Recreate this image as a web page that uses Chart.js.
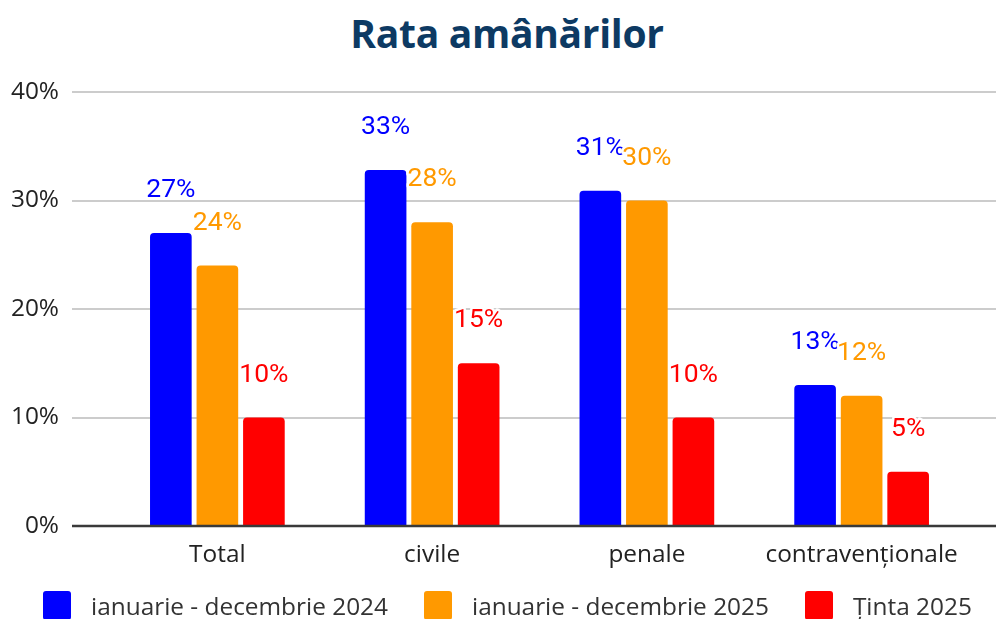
<!DOCTYPE html>
<html>
<head>
<meta charset="utf-8">
<script src="https://cdn.jsdelivr.net/npm/chart.js@4"></script>
<style>
  html, body { margin: 0; padding: 0; background: #fff; }
  #wrap { position: relative; width: 996px; height: 619px; overflow: hidden; }
  #chart { position: absolute; left: 0; top: 0; }
  #title {
    position: absolute; left: 0; top: 6px; width: 1014px; text-align: center;
    font: bold 39px "Open Sans", sans-serif; color: #0d3a63; letter-spacing: -0.3px;
  }
  #legend {
    position: absolute; left: 43px; top: 589px; display: flex; gap: 36px;
    font: 24.4px "Open Sans", sans-serif; color: #333;
  }
  .lg-item { display: flex; align-items: center; gap: 20px; }
  .lg-box { width: 28px; height: 29px; border-radius: 3px; }
</style>
</head>
<body>
<div id="wrap">
  <div id="title">Rata amânărilor</div>
  <canvas id="chart" width="996" height="619"></canvas>
  <div id="legend"></div>
</div>
<script>
const categories = ['Total', 'civile', 'penale', 'contravenționale'];
const seriesNames = ['ianuarie - decembrie 2024', 'ianuarie - decembrie 2025', 'Ținta 2025'];
const values2024 = [27, 32.8, 30.9, 13];
const values2025 = [24, 28, 30, 12];
const target2025 = [10, 15, 10, 5];
const seriesColors = ['#0000ff', '#ff9900', '#ff0000'];
const yTicks = [0, 10, 20, 30, 40];

// linii de grilă mai lungi decât zona categoriilor + axa 0
const gridPlugin = {
    id: 'grid',
    beforeDatasetsDraw(chart) {
        const { ctx, scales: { y } } = chart;
        ctx.save();
        ctx.strokeStyle = '#cccccc';
        ctx.lineWidth = 2;
        yTicks.filter(v => v > 0).forEach(v => {
            const py = Math.round(y.getPixelForValue(v));
            ctx.beginPath(); ctx.moveTo(72, py); ctx.lineTo(996, py); ctx.stroke();
        });
        ctx.restore();
    },
    afterDatasetsDraw(chart) {
        const { ctx, scales: { y } } = chart;
        const py = y.getPixelForValue(0);
        ctx.save();
        ctx.strokeStyle = '#3a3a3a';
        ctx.lineWidth = 2.5;
        ctx.beginPath(); ctx.moveTo(72, py); ctx.lineTo(996, py); ctx.stroke();
        ctx.restore();
    }
};

// etichete procent deasupra barelor, cu contur alb
const labelPlugin = {
    id: 'valueLabels',
    afterDraw(chart) {
        const { ctx } = chart;
        ctx.save();
        ctx.font = '26.5px Roboto';
        ctx.textAlign = 'center';
        ctx.textBaseline = 'alphabetic';
        ctx.lineJoin = 'round';
        chart.data.datasets.forEach((ds, di) => {
            chart.getDatasetMeta(di).data.forEach((bar, i) => {
                const txt = Math.round(ds.data[i]) + '%';
                const x = bar.x, yb = bar.y - 36;
                ctx.strokeStyle = '#ffffff';
                ctx.lineWidth = 5;
                ctx.strokeText(txt, x, yb);
                ctx.fillStyle = ds.labelColor;
                ctx.fillText(txt, x, yb);
            });
        });
        ctx.restore();
    }
};

const datasets = [values2024, values2025, target2025].map((vals, i) => ({
    label: seriesNames[i],
    data: vals,
    backgroundColor: seriesColors[i],
    labelColor: seriesColors[i],
    borderRadius: { topLeft: 4, topRight: 4 },
    borderSkipped: 'bottom',
    barPercentage: 0.895,
    categoryPercentage: 0.65
}));

new Chart(document.getElementById('chart'), {
    type: 'bar',
    data: { labels: categories, datasets },
    options: {
        responsive: false,
        animation: false,
        layout: { padding: { top: 92, right: 27, bottom: 33, left: 0 } },
        plugins: { legend: { display: false }, title: { display: false }, tooltip: { enabled: false } },
        scales: {
            x: {
                grid: { display: false, drawTicks: false },
                border: { display: false },
                ticks: { font: { family: 'Open Sans', size: 24.4 }, color: '#222', padding: 14 },
                afterFit(s) { s.height = 60; }
            },
            y: {
                min: 0, max: 40,
                grid: { display: false, drawTicks: false },
                border: { display: false },
                ticks: {
                    stepSize: 10,
                    font: { family: 'Open Sans', size: 24.4 }, color: '#222', padding: 51,
                    callback: v => v + '%'
                },
                afterFit(s) { s.width = 110; }
            }
        }
    },
    plugins: [gridPlugin, labelPlugin]
});

// legenda
document.getElementById('legend').innerHTML = datasets.map(d => `
    <div class="lg-item"><div class="lg-box" style="background:${d.backgroundColor}"></div><span>${d.label}</span></div>
`).join('');
</script>
</body>
</html>
